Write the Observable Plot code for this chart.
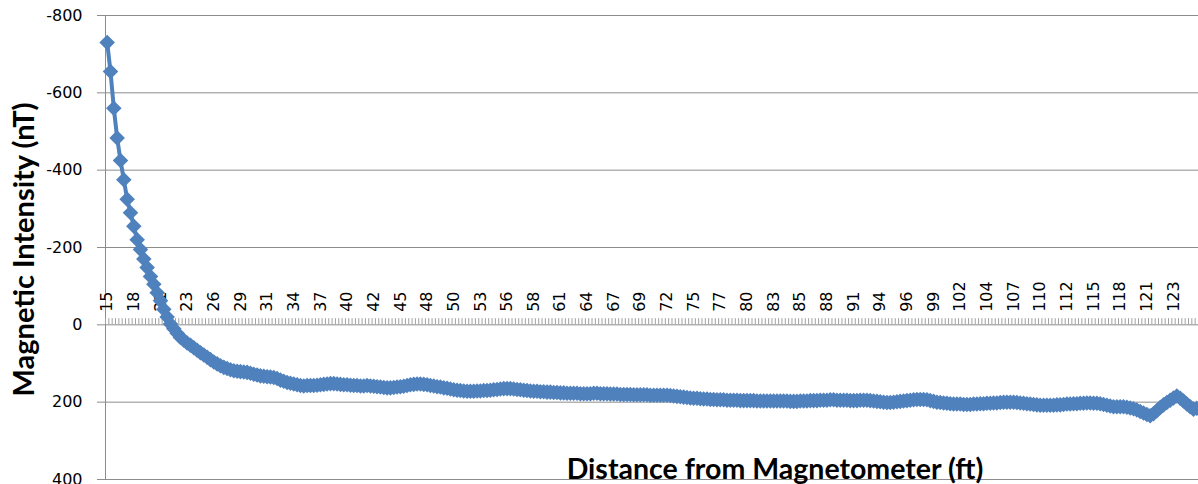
<!DOCTYPE html>
<html><head><meta charset="utf-8">
<script src="https://cdn.jsdelivr.net/npm/d3@7"></script>
<script src="https://cdn.jsdelivr.net/npm/@observablehq/plot@0.6"></script>
<style>html,body{margin:0;padding:0;background:#fff;overflow:hidden}</style>
</head><body><div id="chart"></div>
<script>
// Magnetic intensity (nT), one reading per category (distance step)
const values = [
-730,-655,-560,-483,-425,-375,-325,-290,-255,-220,
-195,-170,-148,-125,-105,-83,-62,-40,-20,-2,
10,22,33,40,47,53,59,66,72,78,
84,90,96,101,106,110,113,116,119,120,
121,122,123,125,128,130,132,133,134,135,
136,139,143,146,149,151,153,155,157,158,
157,157,157,156,155,154,153,152,152,153,
154,155,155,156,157,157,158,158,157,158,
159,160,161,162,163,163,162,161,160,159,
157,155,154,153,153,154,155,157,158,160,
161,163,164,166,168,169,170,171,172,172,
172,171,171,170,170,169,168,167,166,165,
165,165,166,167,168,169,170,171,172,172,
173,173,174,174,175,175,176,176,177,177,
177,177,178,178,178,178,177,177,178,178,
178,179,179,179,180,180,180,180,181,181,
181,181,181,182,182,182,182,182,182,183,
184,185,186,187,188,189,190,190,191,192,
192,193,193,194,194,194,195,195,195,195,
196,196,196,196,196,197,197,197,197,197,
197,197,197,197,197,198,198,198,197,197,
197,196,196,196,195,195,195,194,194,195,
195,195,195,196,196,196,195,195,195,196,
197,198,199,200,201,201,200,199,198,197,
196,195,194,193,193,193,194,196,198,200,
201,202,203,204,205,205,205,206,206,206,
205,205,204,204,203,203,202,202,201,200,
200,200,200,201,202,203,204,205,206,207,
208,208,208,208,208,207,207,206,205,205,
204,204,203,203,202,202,203,203,204,206,
208,210,212,212,212,212,213,215,217,220,
224,228,232,235,230,222,214,207,201,195,
189,184,190,197,205,212,218,216
];
// Category axis labels (shown every 8th category)
const xTickLabels = ["15","18","21","23","26","29","31","34","37","40","42","45","48","50","53","56","58","61","64","67","69","72","75","77","80","83","85","88","91","94","96","99","102","104","107","110","112","115","118","121","123"];
const labelEvery = 8;
const yTicks = [-800,-600,-400,-200,0,200,400];
const yTickLabels = ["-800","-600","-400","-200","0","200","400"];
const xTitle = "Distance from Magnetometer (ft)";
const yTitle = "Magnetic Intensity (nT)";

const data = values.map((v, i) => ({i, v}));
const boundaries = [-0.5, ...data.map(d => d.i + 0.5)];
const labelData = xTickLabels.map((t, k) => ({i: k * labelEvery, t}));
const grid = "#8c8c8c";
const blue = "#4F81BD";

const chart = Plot.plot({
  width: 1198, height: 484,
  marginLeft: 105, marginRight: 0, marginTop: 15, marginBottom: 5,
  style: {fontFamily: "DejaVu Sans", fontSize: "16px", background: "#fff", color: "#000"},
  x: {domain: [-0.5, values.length - 0.5], axis: null},
  y: {domain: [-800, 400], reverse: true, axis: null},
  marks: [
    Plot.ruleY(yTicks.filter(t => t !== 0), {stroke: grid, strokeWidth: 1}),
    Plot.axisY({ticks: yTicks, tickFormat: d => yTickLabels[yTicks.indexOf(d)], tickSize: 8, tickPadding: 15,
      stroke: grid, fill: "#000", label: null, fontSize: 16}),
    Plot.ruleX([-0.5], {stroke: grid, strokeWidth: 1}),
    Plot.ruleY([0], {stroke: grid, strokeWidth: 1}),
    Plot.ruleX(boundaries, {x: d => d, y1: 0, y2: -16, stroke: "#a0a0a0", strokeWidth: 1}),
    Plot.text(labelData, {x: "i", y: 0, text: "t", rotate: -90, textAnchor: "start", dy: -13,
      fill: "#000", fontSize: 16}),
    Plot.text([yTitle], {frameAnchor: "left", textAnchor: "middle", dx: -81, dy: 2, rotate: -90, text: d => d, fill: "#000",
      fontWeight: "bold", fontSize: 29, fontFamily: "Lato"}),
    Plot.text([xTitle], {frameAnchor: "bottom", textAnchor: "middle", dx: 123, lineAnchor: "bottom", dy: -1, text: d => d,
      fill: "#000", fontWeight: "bold", fontSize: 28.5, fontFamily: "Lato"}),
    Plot.line(data, {x: "i", y: "v", stroke: blue, strokeWidth: 4}),
    Plot.dot(data, {x: "i", y: "v", symbol: "diamond2", r: 7, fill: blue, stroke: "none"})
  ]
});
document.getElementById("chart").appendChild(chart);
</script>
</body></html>
